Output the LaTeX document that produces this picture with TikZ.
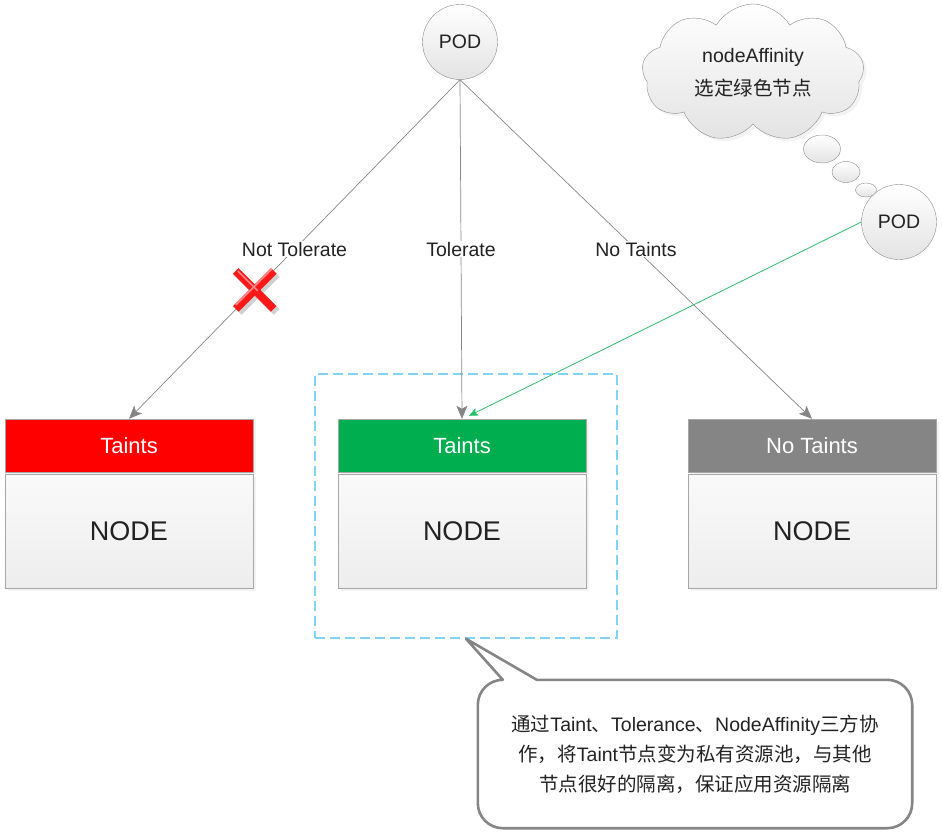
\documentclass[tikz,border=0pt]{standalone}
\usepackage{fontspec}
\setmainfont{Liberation Sans}
\newfontfamily\zhfont{Noto Sans CJK SC}
\newcommand{\zh}[1]{{\zhfont #1}}
\usetikzlibrary{positioning,calc,arrows.meta,shadows,shapes.symbols,shapes.geometric}
\definecolor{tred}{HTML}{FF0000}
\definecolor{tgreen}{HTML}{00AD4F}
\definecolor{tgray}{HTML}{858585}
\definecolor{ink}{HTML}{222222}
\definecolor{poolblue}{HTML}{80D4F6}
\definecolor{affine}{HTML}{2DBE6C}
\tikzset{
	txt/.style={font=\fontsize{19.5}{30}\selectfont, text=ink},
	softshadow/.style={drop shadow={shadow xshift=3pt, shadow yshift=-3pt, fill=black!9}},
	pod/.style={circle, draw=black!45, top color=white, bottom color=black!11, minimum size=75pt, inner sep=0pt, txt},
	bubble/.style={ellipse, draw=black!45, top color=white, bottom color=black!11, inner sep=0pt},
	hdr/.style={draw=black!35, minimum width=248pt, minimum height=53pt, inner sep=0pt, text=white, font=\fontsize{22}{26}\selectfont, softshadow},
	bodybox/.style={draw=black!35, top color=black!2, bottom color=black!7, minimum width=248pt, minimum height=114pt, inner sep=0pt, text=ink, font=\fontsize{27}{30}\selectfont, softshadow},
	link/.style={draw=tgray, line width=0.7pt, -{Stealth[length=13pt, width=11pt, inset=3pt]}},
	greenlink/.style={draw=affine, line width=0.8pt, -{Stealth[length=9pt, width=8pt, inset=2pt]}},
	lbl/.style={txt, fill=white, inner sep=1pt},
	poolbox/.style={draw=poolblue, line width=1.5pt, dash pattern=on 10pt off 5pt, minimum width=302pt, minimum height=264pt},
	noteline/.style={draw=tgray, line width=2.6pt, line join=round}
}
\begin{document}
\begin{tikzpicture}[x=1pt, y=-1pt]
				\useasboundingbox (0,0) rectangle (942,832);
				
				\node[pod] (pod) at (460,42) {POD};
				\node[pod] (podb) at (899,222) {POD};
				\node[cloud, cloud puffs=9, cloud puff arc=120, aspect=1.6, draw=black!45, top color=white, bottom color=black!11, minimum width=222pt, minimum height=138pt, align=center, txt, font=\fontsize{19.5}{33}\selectfont, softshadow] (cloud) at (753,73) {nodeAffinity\\\zh{选定绿色节点}};
				\node[bubble, minimum width=37pt, minimum height=28pt] (bub1) at (822,149) {};
				\node[bubble, minimum width=28pt, minimum height=21pt] (bub2) at (846,172) {};
				\node[bubble, minimum width=21pt, minimum height=14pt] (bub3) at (866,190) {};
				
				\node[poolbox] (pool) at (466,506) {};
				
				\node[hdr, fill=tred] (hdleft) at (129,445.5) {Taints};
				\node[hdr, fill=tgreen] (hdmid) at (462,445.5) {Taints};
				\node[hdr, fill=tgray] (hdright) at (812,445.5) {No Taints};
				\node[bodybox, below=2pt of hdleft] (ndleft) {NODE};
				\node[bodybox, below=2pt of hdmid] (ndmid) {NODE};
				\node[bodybox, below=2pt of hdright] (ndright) {NODE};
				
				\draw[link] (pod.south) -- (hdleft.north) node[lbl, midway] {Not Tolerate} coordinate[pos=0.62] (cross);
				\draw[link] (pod.south) -- (hdmid.north) node[lbl, midway] {Tolerate};
				\draw[link] (pod.south) -- (hdright.north) node[lbl, midway] {No Taints};
				\draw[greenlink] (podb.west) -- ([xshift=7pt, yshift=3pt]hdmid.north);
				
				\draw[line width=8pt, black!18] ($(cross)+(-16,-16)$) -- ($(cross)+(22,22)$);
				\draw[line width=8pt, black!18] ($(cross)+(22,-16)$) -- ($(cross)+(-16,22)$);
				\draw[line width=8pt, red!90!white] ($(cross)+(-19,-19)$) -- ($(cross)+(19,19)$);
				\draw[line width=8pt, red!90!white] ($(cross)+(19,-19)$) -- ($(cross)+(-19,19)$);
				\draw[line width=1.5pt, red!45!white] ($(cross)+(-17,-19)$) -- ($(cross)+(3,1)$);
				\draw[line width=1.5pt, red!45!white] ($(cross)+(17,-21)$) -- ($(cross)+(-19,15)$);
				
				\node[txt, align=center, minimum width=434pt, minimum height=148pt] (note) at (695,754) {\zh{通过}Taint\zh{、}Tolerance\zh{、}NodeAffinity\zh{三方协}\\\zh{作，将}Taint\zh{节点变为私有资源池，与其他}\\\zh{节点很好的隔离，保证应用资源隔离}};
				\draw[noteline] (pool.south) -- ($(note.north west)+(59,0)$) [rounded corners=25pt] -- (note.north east) -- (note.south east) -- (note.south west) -- (note.north west) [sharp corners] -- ($(note.north west)+(25,0)$) -- cycle;
			\end{tikzpicture}
\end{document}
